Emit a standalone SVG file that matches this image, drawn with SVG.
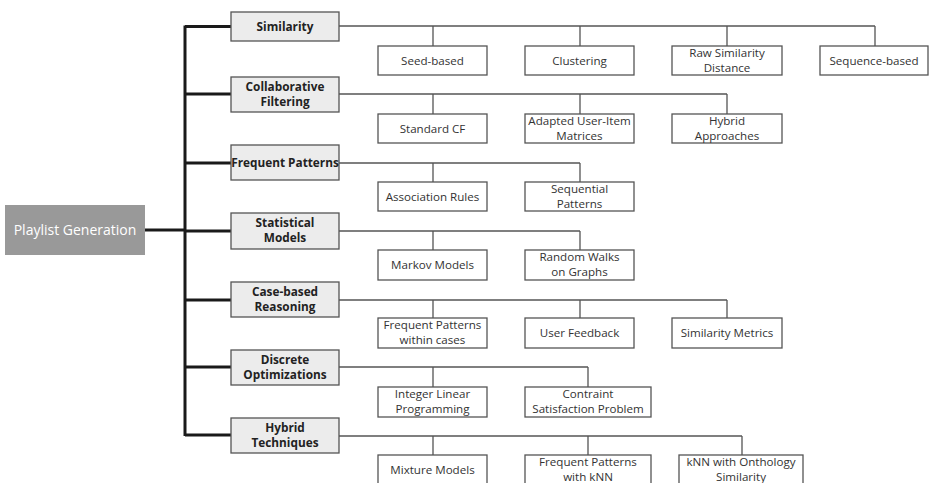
<svg xmlns="http://www.w3.org/2000/svg" width="929" height="483" viewBox="0 0 929 483">
<style>
.root{fill:#999999}
.rt{fill:#ffffff;font-family:"Open Sans","DejaVu Sans",sans-serif;font-size:14px;text-anchor:middle}
.cat{fill:#ececec;stroke:#555;stroke-width:1.3}
.ct{fill:#222;font-family:"Open Sans","DejaVu Sans",sans-serif;font-size:11.8px;font-weight:bold;text-anchor:middle}
.ch{fill:#fff;stroke:#555;stroke-width:1.3}
.cht{fill:#333;font-family:"Open Sans","DejaVu Sans",sans-serif;font-size:11.6px;text-anchor:middle}
.thick{stroke:#1a1a1a;stroke-width:3;fill:none}
.thin{stroke:#555;stroke-width:1.3;fill:none}
</style>
<rect width="929" height="483" fill="#fff"/>
<g id="connectors">
<path class="thick" d="M145,230H185M185,25.5V436M185,26.5H231M185,94H231M185,163H231M185,231H231M185,300H231M185,367H231M185,435H231"/>
<path class="thin" d="M339,26H875M433,26V46M580,26V46M727,26V46M875,26V46"/>
<path class="thin" d="M339,94H727M433,94V114M580,94V114M727,94V114"/>
<path class="thin" d="M339,163H580M433,163V182M580,163V182"/>
<path class="thin" d="M339,231H580M433,231V250M580,231V250"/>
<path class="thin" d="M339,300H727M433,300V318M580,300V318M727,300V318"/>
<path class="thin" d="M339,367H588M433,367V387M588,367V387"/>
<path class="thin" d="M339,436H742M433,436V455M588,436V455M742,436V455"/>
</g>
<g id="root"><rect class="root" x="5" y="205" width="140" height="50"/><text class="rt" x="75" y="235">Playlist Generation</text></g>
<g id="similarity"><rect class="cat" x="231" y="12" width="108" height="29"/><text class="ct" x="285" y="31">Similarity</text></g>
<g id="collab"><rect class="cat" x="231" y="77" width="108" height="35"/><text class="ct" x="285" y="91">Collaborative</text><text class="ct" x="285" y="105.5">Filtering</text></g>
<g id="freq"><rect class="cat" x="231" y="145" width="108" height="35"/><text class="ct" x="285" y="167">Frequent Patterns</text></g>
<g id="stat"><rect class="cat" x="231" y="213" width="108" height="36"/><text class="ct" x="285" y="227">Statistical</text><text class="ct" x="285" y="241.5">Models</text></g>
<g id="case"><rect class="cat" x="231" y="282" width="108" height="35"/><text class="ct" x="285" y="296">Case-based</text><text class="ct" x="285" y="310.5">Reasoning</text></g>
<g id="discrete"><rect class="cat" x="231" y="350" width="108" height="35"/><text class="ct" x="285" y="364">Discrete</text><text class="ct" x="285" y="378.5">Optimizations</text></g>
<g id="hybridt"><rect class="cat" x="231" y="418" width="108" height="35"/><text class="ct" x="285" y="432">Hybrid</text><text class="ct" x="285" y="446.5">Techniques</text></g>
<g id="seed"><rect class="ch" x="378" y="46" width="109" height="29"/><text class="cht" x="432.5" y="65">Seed-based</text></g>
<g id="clustering"><rect class="ch" x="525" y="46" width="109" height="29"/><text class="cht" x="579.5" y="65">Clustering</text></g>
<g id="rawsim"><rect class="ch" x="672" y="46" width="110" height="29"/><text class="cht" x="727" y="56.5">Raw Similarity</text><text class="cht" x="727" y="71.5">Distance</text></g>
<g id="seq"><rect class="ch" x="820" y="46" width="108" height="29"/><text class="cht" x="874" y="65">Sequence-based</text></g>
<g id="stdcf"><rect class="ch" x="378" y="114" width="109" height="29"/><text class="cht" x="432.5" y="133">Standard CF</text></g>
<g id="adapted"><rect class="ch" x="525" y="114" width="109" height="29"/><text class="cht" x="579.5" y="124.5">Adapted User-Item</text><text class="cht" x="579.5" y="139.5">Matrices</text></g>
<g id="hybridapp"><rect class="ch" x="672" y="114" width="110" height="29"/><text class="cht" x="727" y="124.5">Hybrid</text><text class="cht" x="727" y="139.5">Approaches</text></g>
<g id="assoc"><rect class="ch" x="378" y="182" width="109" height="29"/><text class="cht" x="432.5" y="201">Association Rules</text></g>
<g id="seqpat"><rect class="ch" x="525" y="182" width="109" height="29"/><text class="cht" x="579.5" y="192.5">Sequential</text><text class="cht" x="579.5" y="207.5">Patterns</text></g>
<g id="markov"><rect class="ch" x="378" y="250" width="109" height="30"/><text class="cht" x="432.5" y="269">Markov Models</text></g>
<g id="random"><rect class="ch" x="525" y="250" width="109" height="30"/><text class="cht" x="579.5" y="260.5">Random Walks</text><text class="cht" x="579.5" y="275.5">on Graphs</text></g>
<g id="fpwithin"><rect class="ch" x="378" y="318" width="109" height="30"/><text class="cht" x="432.5" y="328.5">Frequent Patterns</text><text class="cht" x="432.5" y="343.5">within cases</text></g>
<g id="feedback"><rect class="ch" x="525" y="318" width="109" height="30"/><text class="cht" x="579.5" y="337">User Feedback</text></g>
<g id="simmetrics"><rect class="ch" x="672" y="318" width="110" height="30"/><text class="cht" x="727" y="337">Similarity Metrics</text></g>
<g id="ilp"><rect class="ch" x="378" y="387" width="109" height="30"/><text class="cht" x="432.5" y="397.5">Integer Linear</text><text class="cht" x="432.5" y="412.5">Programming</text></g>
<g id="csp"><rect class="ch" x="525" y="387" width="126" height="30"/><text class="cht" x="588" y="397.5">Contraint</text><text class="cht" x="588" y="412.5">Satisfaction Problem</text></g>
<g id="mixture"><rect class="ch" x="378" y="455" width="109" height="35"/><text class="cht" x="432.5" y="474">Mixture Models</text></g>
<g id="fpknn"><rect class="ch" x="525" y="455" width="126" height="35"/><text class="cht" x="588" y="465.5">Frequent Patterns</text><text class="cht" x="588" y="480.5">with kNN</text></g>
<g id="knnonto"><rect class="ch" x="679" y="455" width="124" height="35"/><text class="cht" x="741" y="465.5">kNN with Onthology</text><text class="cht" x="741" y="480.5">Similarity</text></g>
</svg>
